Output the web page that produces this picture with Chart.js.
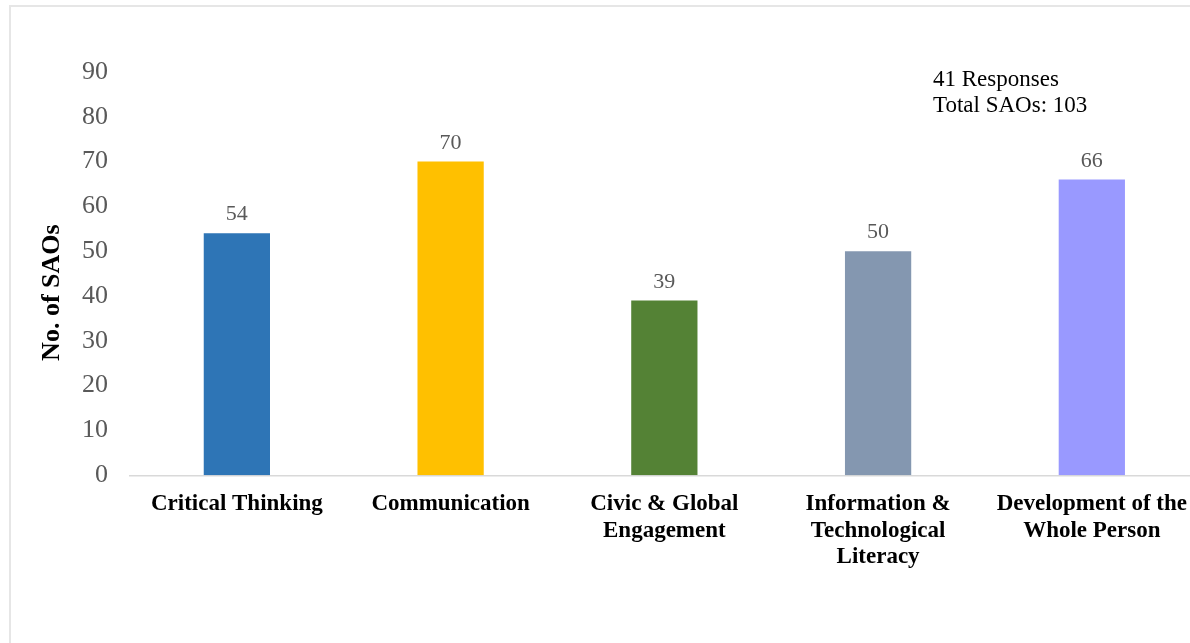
<!DOCTYPE html>
<html>
<head>
<meta charset="utf-8">
<script src="https://cdn.jsdelivr.net/npm/chart.js@4.4.1/dist/chart.umd.min.js"></script>
<style>
  html, body { margin: 0; padding: 0; background: #fff; overflow: hidden; }
  #marco { position: absolute; left: 9px; top: 5px; width: 1300px; height: 700px;
           border: 2px solid #e6e6e6; box-sizing: border-box; }
  #lienzo { position: absolute; left: 0; top: 0; width: 1202px; height: 643px; }
</style>
</head>
<body>
<div id="marco"></div>
<div id="lienzo"><canvas id="grafico"></canvas></div>
<script>
// datos
const categorias = [
  'Critical Thinking',
  'Communication',
  ['Civic & Global', 'Engagement'],
  ['Information &', 'Technological', 'Literacy'],
  ['Development of the', 'Whole Person']
];
const valores = [54, 70, 39, 50, 66];
const colores = ['#2E75B6', '#FFC000', '#548235', '#8497B0', '#9999FF'];
const ticksY = [0, 10, 20, 30, 40, 50, 60, 70, 80, 90];
const tituloY = 'No. of SAOs';
const notas = ['41 Responses', 'Total SAOs: 103'];

const fuente = '"Liberation Serif", "Times New Roman", serif';

// etiquetas de valor encima de cada barra
const etiquetasBarras = {
  id: 'etiquetasBarras',
  afterDatasetsDraw(chart) {
    const ctx = chart.ctx;
    const meta = chart.getDatasetMeta(0);
    ctx.save();
    ctx.font = '22px ' + fuente;
    ctx.fillStyle = '#595959';
    ctx.textAlign = 'center';
    ctx.textBaseline = 'alphabetic';
    meta.data.forEach((barra, i) => {
      ctx.fillText(String(valores[i]), barra.x, barra.y - 13);
    });
    ctx.restore();
  }
};

// titulo del eje y y texto de respuestas
const textos = {
  id: 'textos',
  afterDraw(chart) {
    const ctx = chart.ctx;
    const y = chart.scales.y;
    ctx.save();
    ctx.font = 'bold 26px ' + fuente;
    ctx.fillStyle = '#000';
    ctx.textAlign = 'center';
    ctx.textBaseline = 'middle';
    ctx.translate(52, (y.top + y.bottom) / 2 + 19);
    ctx.rotate(-Math.PI / 2);
    ctx.fillText(tituloY, 0, 0);
    ctx.restore();

    ctx.save();
    ctx.font = '23px ' + fuente;
    ctx.fillStyle = '#000';
    ctx.textAlign = 'left';
    ctx.textBaseline = 'middle';
    const base = y.getPixelForValue(88.2);
    notas.forEach((t, i) => ctx.fillText(t, 933, base + i * 26));
    ctx.restore();
  }
};

new Chart(document.getElementById('grafico'), {
  type: 'bar',
  data: {
    labels: categorias,
    datasets: [{
      data: valores,
      backgroundColor: colores,
      categoryPercentage: 1,
      barPercentage: 0.31
    }]
  },
  options: {
    responsive: true,
    maintainAspectRatio: false,
    animation: false,
    layout: { padding: { left: 0, top: 72, right: 0, bottom: 57 } },
    plugins: { legend: { display: false }, tooltip: { enabled: false } },
    scales: {
      x: {
        grid: { display: false, drawTicks: false },
        border: { display: true, color: '#d9d9d9', width: 1.5 },
        ticks: {
          autoSkip: false, maxRotation: 0, padding: 15,
          color: '#000',
          font: { family: fuente, size: 23, weight: 'bold', lineHeight: 1.17 }
        }
      },
      y: {
        min: 0, max: 90,
        afterBuildTicks(axis) { axis.ticks = ticksY.map(v => ({ value: v })); },
        afterFit(axis) { axis.width = 130; },
        grid: { display: false, drawTicks: false },
        border: { display: false },
        ticks: {
          padding: 22, color: '#595959',
          font: { family: fuente, size: 26 }
        }
      }
    }
  },
  plugins: [etiquetasBarras, textos]
});
</script>
</body>
</html>
